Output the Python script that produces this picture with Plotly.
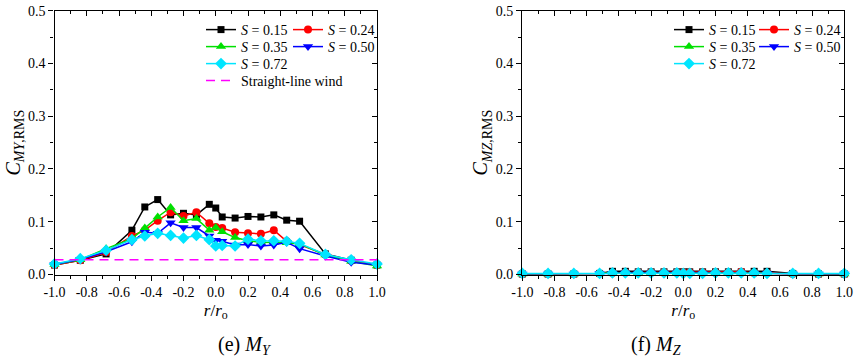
import plotly.graph_objects as go

r = [-1.0, -0.84, -0.68, -0.52, -0.44, -0.36, -0.28, -0.20, -0.12, -0.04, 0.0,
     0.04, 0.12, 0.20, 0.28, 0.36, 0.44, 0.52, 0.68, 0.84, 1.0]

# (e) M_Y
my_s015 = [0.018, 0.027, 0.039, 0.084, 0.128, 0.142, 0.113, 0.116, 0.113, 0.133, 0.126,
           0.109, 0.107, 0.110, 0.109, 0.113, 0.103, 0.101, 0.039, 0.027, 0.018]
my_s024 = [0.018, 0.027, 0.042, 0.073, 0.084, 0.102, 0.118, 0.111, 0.118, 0.097, 0.090,
           0.088, 0.080, 0.078, 0.077, 0.084, 0.063, 0.057, 0.038, 0.026, 0.018]
my_s035 = [0.019, 0.028, 0.049, 0.068, 0.088, 0.109, 0.127, 0.102, 0.106, 0.084, 0.089,
           0.081, 0.070, 0.064, 0.061, 0.061, 0.060, 0.058, 0.037, 0.025, 0.016]
my_s050 = [0.019, 0.029, 0.043, 0.062, 0.080, 0.078, 0.098, 0.089, 0.089, 0.073, 0.065,
           0.063, 0.056, 0.057, 0.054, 0.056, 0.061, 0.049, 0.035, 0.023, 0.018]
my_s072 = [0.020, 0.030, 0.046, 0.066, 0.073, 0.078, 0.074, 0.069, 0.074, 0.066, 0.054,
           0.055, 0.054, 0.067, 0.064, 0.064, 0.063, 0.059, 0.038, 0.028, 0.020]
straight_line_wind = 0.028

# (f) M_Z
mz_s015 = [0.001, 0.001, 0.001, 0.002, 0.006, 0.006, 0.005, 0.005, 0.005, 0.005, 0.005,
           0.005, 0.005, 0.005, 0.005, 0.005, 0.006, 0.006, 0.002, 0.001, 0.001]
mz_s024 = [0.001, 0.001, 0.001, 0.002, 0.003, 0.004, 0.004, 0.004, 0.004, 0.004, 0.004,
           0.004, 0.004, 0.004, 0.004, 0.005, 0.003, 0.003, 0.001, 0.001, 0.001]
mz_s035 = [0.001, 0.001, 0.001, 0.002, 0.003, 0.003, 0.004, 0.004, 0.003, 0.003, 0.003,
           0.003, 0.003, 0.003, 0.004, 0.003, 0.003, 0.002, 0.001, 0.001, 0.001]
mz_s050 = [0.001, 0.001, 0.001, 0.002, 0.002, 0.003, 0.003, 0.003, 0.003, 0.003, 0.002,
           0.002, 0.002, 0.002, 0.002, 0.002, 0.002, 0.002, 0.001, 0.001, 0.001]
mz_s072 = [0.002, 0.002, 0.002, 0.002, 0.003, 0.003, 0.003, 0.003, 0.003, 0.003, 0.002,
           0.002, 0.002, 0.003, 0.003, 0.003, 0.003, 0.002, 0.002, 0.002, 0.002]

s_labels = ["0.15", "0.24", "0.35", "0.50", "0.72"]
colors = ["#000000", "#ff0000", "#00e000", "#0000ff", "#00e5ff"]
symbols = ["square", "circle", "triangle-up", "triangle-down", "diamond"]
sizes = [7, 8, 9, 9, 9]

FONT = "Times New Roman, Liberation Serif, serif"
W, H = 866, 357
fig = go.Figure()

# legend slots: (left-x of legend box, top-y) in page pixels
left_slots = [(201, 14), (288, 14), (201, 31), (288, 31), (201, 48)]
right_slots = [(669, 14), (754, 14), (669, 31), (754, 31), (669, 48)]
legends = {}
def leg(x, ytop):
    return dict(x=x / W, y=1 - ytop / H, xanchor="left", yanchor="top", orientation="v",
                bgcolor="rgba(0,0,0,0)", font=dict(family=FONT, size=14, color="black"),
                itemwidth=30, tracegroupgap=0)

n = 0
def next_legend(slot):
    global n
    n += 1
    name = "legend" if n == 1 else f"legend{n}"
    legends[name] = leg(*slot)
    return name

for i, ys in enumerate([my_s015, my_s024, my_s035, my_s050, my_s072]):
    fig.add_trace(go.Scatter(
        x=r, y=ys, mode="lines+markers", name=f"<i>S</i> = {s_labels[i]}",
        line=dict(color=colors[i], width=1.5),
        marker=dict(symbol=symbols[i], size=sizes[i], color=colors[i]),
        cliponaxis=False, xaxis="x", yaxis="y", legend=next_legend(left_slots[i])))
fig.add_trace(go.Scatter(
    x=[-1.0, 1.0], y=[straight_line_wind, straight_line_wind], mode="lines",
    name="Straight-line wind", line=dict(color="#ff00ff", width=1.5, dash="9px,6px"),
    xaxis="x", yaxis="y", legend=next_legend((201, 65))))

for i, ys in enumerate([mz_s015, mz_s024, mz_s035, mz_s050, mz_s072]):
    fig.add_trace(go.Scatter(
        x=r, y=ys, mode="lines+markers", name=f"<i>S</i> = {s_labels[i]}",
        line=dict(color=colors[i], width=1.5),
        marker=dict(symbol=symbols[i], size=sizes[i], color=colors[i]),
        cliponaxis=False, xaxis="x2", yaxis="y2", legend=next_legend(right_slots[i])))

# dummy traces for mirrored inside-tick axes
for xa, ya in [("x3", "y3"), ("x4", "y4")]:
    fig.add_trace(go.Scatter(x=[0], y=[0.25], mode="markers", marker=dict(opacity=0),
                             showlegend=False, hoverinfo="skip", xaxis=xa, yaxis=ya))

tickfont = dict(family=FONT, size=14, color="black")
xbase = dict(range=[-1.0, 1.0], tickmode="array", automargin=False, ticklabeloverflow="allow",
             tickvals=[-1.0, -0.8, -0.6, -0.4, -0.2, 0.0, 0.2, 0.4, 0.6, 0.8, 1.0],
             ticktext=["-1.0", "-0.8", "-0.6", "-0.4", "-0.2", "0.0", "0.2", "0.4", "0.6", "0.8", "1.0"],
             showline=True, linecolor="black", linewidth=1.3, showgrid=False, zeroline=False,
             ticks="outside", ticklen=5, tickwidth=1.2, tickcolor="black", tickfont=tickfont,
             minor=dict(dtick=0.1, tick0=0, ticks="outside", ticklen=3, tickwidth=1.2, tickcolor="black", showgrid=False))
ybase = dict(range=[0, 0.5], tickmode="array", tickvals=[0, 0.1, 0.2, 0.3, 0.4, 0.5], automargin=False,
             ticktext=["0.0", "0.1", "0.2", "0.3", "0.4", "0.5"], ticklabeloverflow="allow",
             showline=True, linecolor="black", linewidth=1.3, showgrid=False, zeroline=False,
             ticks="outside", ticklen=5, tickwidth=1.2, tickcolor="black", tickfont=tickfont,
             minor=dict(dtick=0.05, tick0=0, ticks="outside", ticklen=3, tickwidth=1.2, tickcolor="black", showgrid=False))

dl = [54.5 / W, 377 / W]
dr = [522.3 / W, 844.3 / W]
dy = [1 - 274.5 / H, 1 - 10.7 / H]

xtitle = dict(text="<i>r</i>/<i>r</i><sub>o</sub>", font=dict(family=FONT, size=17, color="black"), standoff=4)

fig.update_layout(
    width=W, height=H, margin=dict(l=0, r=0, t=0, b=0, autoexpand=False),
    paper_bgcolor="white", plot_bgcolor="white", hovermode=False,
    font=dict(family=FONT, size=14, color="black"),
    xaxis=dict(**xbase, domain=dl, anchor="y", title=xtitle),
    yaxis=dict(**ybase, domain=dy, anchor="x",
               title=dict(text="<i>C</i><sub><i>MY</i>,RMS</sub>", font=dict(family=FONT, size=20, color="black"), standoff=2)),
    xaxis2=dict(**xbase, domain=dr, anchor="y2", title=xtitle),
    yaxis2=dict(**ybase, domain=dy, anchor="x2",
                title=dict(text="<i>C</i><sub><i>MZ</i>,RMS</sub>", font=dict(family=FONT, size=20, color="black"), standoff=2)),
    **legends,
)

def mirror_x(overlay):
    d = dict(xbase)
    d.update(overlaying=overlay, side="top", ticks="inside", showticklabels=False,
             minor=dict(dtick=0.1, tick0=0, ticks="inside", ticklen=3, tickwidth=1.2, tickcolor="black"))
    return d

def mirror_y(overlay):
    d = dict(ybase)
    d.update(overlaying=overlay, side="right", ticks="inside", showticklabels=False,
             minor=dict(dtick=0.05, tick0=0, ticks="inside", ticklen=3, tickwidth=1.2, tickcolor="black"))
    return d

fig.update_layout(
    xaxis3=dict(**mirror_x("x"), anchor="y"),
    yaxis3=dict(**mirror_y("y"), anchor="x"),
    xaxis4=dict(**mirror_x("x2"), anchor="y2"),
    yaxis4=dict(**mirror_y("y2"), anchor="x2"),
)

fig.add_annotation(text="(e) <i>M</i><sub><i>Y</i></sub>", xref="paper", yref="paper",
                   x=(dl[0] + dl[1]) / 2, y=1 - 345 / H, yanchor="middle", showarrow=False,
                   font=dict(family=FONT, size=20, color="black"))
fig.add_annotation(text="(f) <i>M</i><sub><i>Z</i></sub>", xref="paper", yref="paper",
                   x=(dr[0] + dr[1]) / 2, y=1 - 345 / H, yanchor="middle", showarrow=False,
                   font=dict(family=FONT, size=20, color="black"))

fig.write_html("out.html", config={"displayModeBar": False},
               post_script="document.body.style.margin='0';")
